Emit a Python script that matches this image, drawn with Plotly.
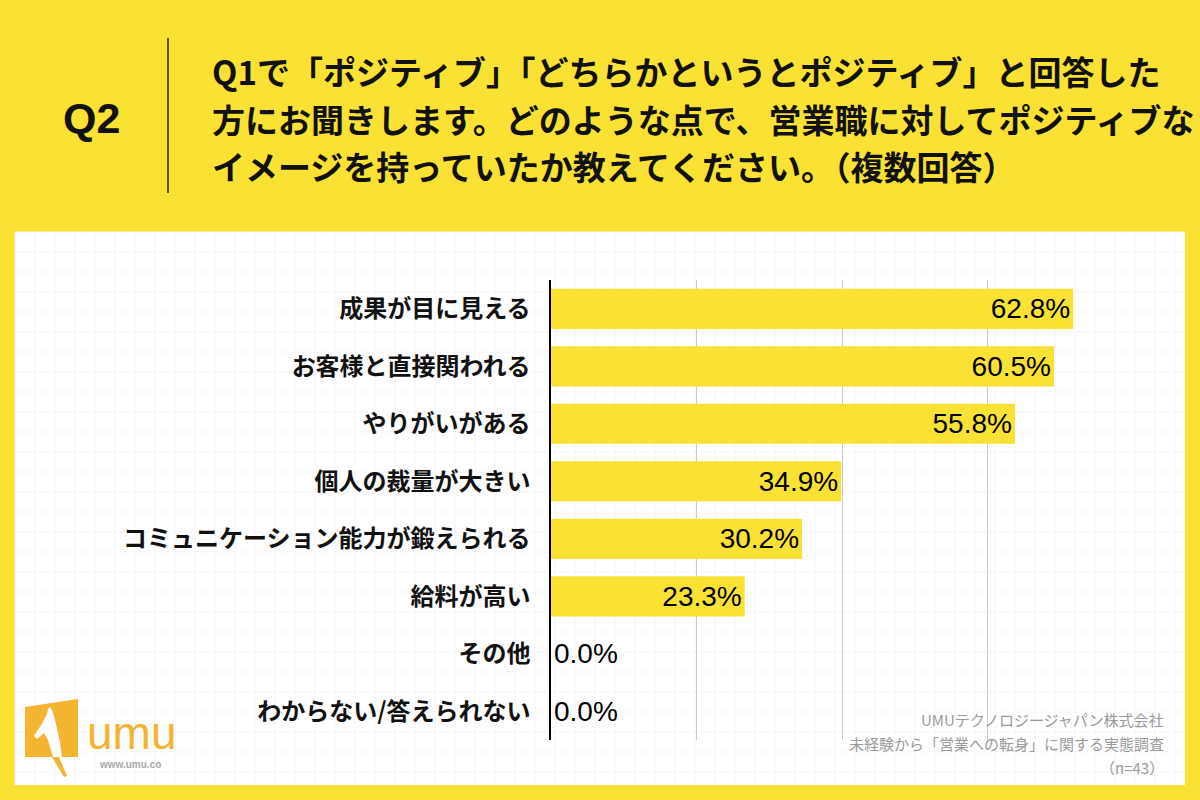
import plotly.graph_objects as go

categories = ["成果が目に見える", "お客様と直接関われる", "やりがいがある", "個人の裁量が大きい",
              "コミュニケーション能力が鍛えられる", "給料が高い", "その他", "わからない/答えられない"]
values = [62.8, 60.5, 55.8, 34.9, 30.2, 23.3, 0.0, 0.0]

title_lines = ["Q1で「ポジティブ」「どちらかというとポジティブ」と回答した",
               "方にお聞きします。どのような点で、営業職に対してポジティブな",
               "イメージを持っていたか教えてください。（複数回答）"]
source_lines = ["UMUテクノロジージャパン株式会社",
                "未経験から「営業への転身」に関する実態調査",
                "（n=43）"]

YELLOW = "#F9E234"
ORANGE = "#F2B431"
JP = "Noto Sans CJK JP"
NUM = "Liberation Sans, Arial"
W, H = 1200, 800
L, R, T, B = 551, 67, 280, 60
PW, PH = W - L - R, H - T - B


def px(x):
    return (x - L) / PW


def py(y):
    return (H - B - y) / PH


def path(points):
    return "M " + " L ".join(f"{px(a)},{py(b)}" for a, b in points) + " Z"


fig = go.Figure()
fig.add_trace(go.Bar(
    x=values, y=categories, orientation="h",
    marker=dict(color=YELLOW, line=dict(width=0)),
    text=[f"{v:.1f}%" for v in values],
    textposition=["inside" if v > 0 else "outside" for v in values],
    insidetextanchor="end",
    textfont=dict(family=NUM, size=28, color="black"),
    insidetextfont=dict(family=NUM, size=28, color="black"),
    outsidetextfont=dict(family=NUM, size=28, color="black"),
    cliponaxis=False,
    hoverinfo="skip",
))

shapes = []
# white panel
shapes.append(dict(type="rect", xref="paper", yref="paper", x0=px(15), x1=px(1185), y0=py(232), y1=py(785),
                   fillcolor="white", line=dict(width=0), layer="below"))
# faint graph-paper pattern
gx = 15
while gx <= 1185:
    shapes.append(dict(type="line", xref="paper", yref="paper", x0=px(gx), x1=px(gx), y0=py(232), y1=py(785),
                       line=dict(color="#f5f5f5", width=1), layer="below"))
    gx += 20
gy = 232
while gy <= 785:
    shapes.append(dict(type="line", xref="paper", yref="paper", x0=px(15), x1=px(1185), y0=py(gy), y1=py(gy),
                       line=dict(color="#f5f5f5", width=1), layer="below"))
    gy += 20
# header separator
shapes.append(dict(type="line", xref="paper", yref="paper", x0=px(168), x1=px(168), y0=py(38), y1=py(193),
                   line=dict(color="#222", width=1.5)))
# logo block
shapes.append(dict(type="path", xref="paper", yref="paper",
                   path=path([(25, 707), (78, 699), (78, 757), (25, 757)]),
                   fillcolor=ORANGE, line=dict(width=0)))
shapes.append(dict(type="path", xref="paper", yref="paper",
                   path=path([(52, 757), (59, 757), (67, 776), (64, 777)]),
                   fillcolor=ORANGE, line=dict(width=0)))
shapes.append(dict(type="path", xref="paper", yref="paper",
                   path=path([(34, 736), (43, 722), (47, 714), (48, 709), (50, 707), (52, 710), (54, 716),
                              (56, 724), (60, 742), (62, 757), (53, 757), (48, 740), (44, 733), (37, 739)]),
                   fillcolor="white", line=dict(width=0)))

annotations = []
annotations.append(dict(text="<b>Q2</b>", x=px(91), y=py(118), xref="paper", yref="paper",
                        showarrow=False, xanchor="center", yanchor="middle",
                        font=dict(family=NUM, size=43, color="#111")))
for i, line in enumerate(title_lines):
    annotations.append(dict(text=line, x=px(210), y=py(71 + 47.5 * i), xref="paper", yref="paper",
                            showarrow=False, xanchor="left", yanchor="middle",
                            font=dict(family=JP, size=33, color="#111", weight="bold")))
for i, line in enumerate(source_lines):
    annotations.append(dict(text=line, x=px(1166), y=py(719 + 24 * i), xref="paper", yref="paper",
                            showarrow=False, xanchor="right", yanchor="middle",
                            font=dict(family=JP, size=15, color="#9a9a9a")))
annotations.append(dict(text="umu", x=px(85), y=py(733), xref="paper", yref="paper",
                        showarrow=False, xanchor="left", yanchor="middle",
                        font=dict(family=NUM, size=46, color=ORANGE)))
annotations.append(dict(text="<b>www.umu.co</b>", x=px(97), y=py(764), xref="paper", yref="paper",
                        showarrow=False, xanchor="left", yanchor="middle",
                        font=dict(family=NUM, size=10, color="#aaaaaa")))

fig.update_layout(
    width=W, height=H,
    margin=dict(l=L, r=R, t=T, b=B, pad=0),
    paper_bgcolor=YELLOW,
    plot_bgcolor="rgba(0,0,0,0)",
    showlegend=False,
    bargap=0.3,
    shapes=shapes,
    annotations=annotations,
    xaxis=dict(range=[0, 70], dtick=17.5, showticklabels=False, showgrid=True,
               gridcolor="#c8c8c8", gridwidth=1, zeroline=False, showline=False, fixedrange=True),
    yaxis=dict(autorange="reversed", showline=True, linecolor="black", linewidth=1.5,
               ticks="", ticklabelstandoff=14,
               tickfont=dict(family=JP, size=24, color="#111", weight="bold")),
)

fig.write_html("out.html", config={"displayModeBar": False},
               post_script="document.body.style.margin='0';document.body.style.background='#F9E234';")
